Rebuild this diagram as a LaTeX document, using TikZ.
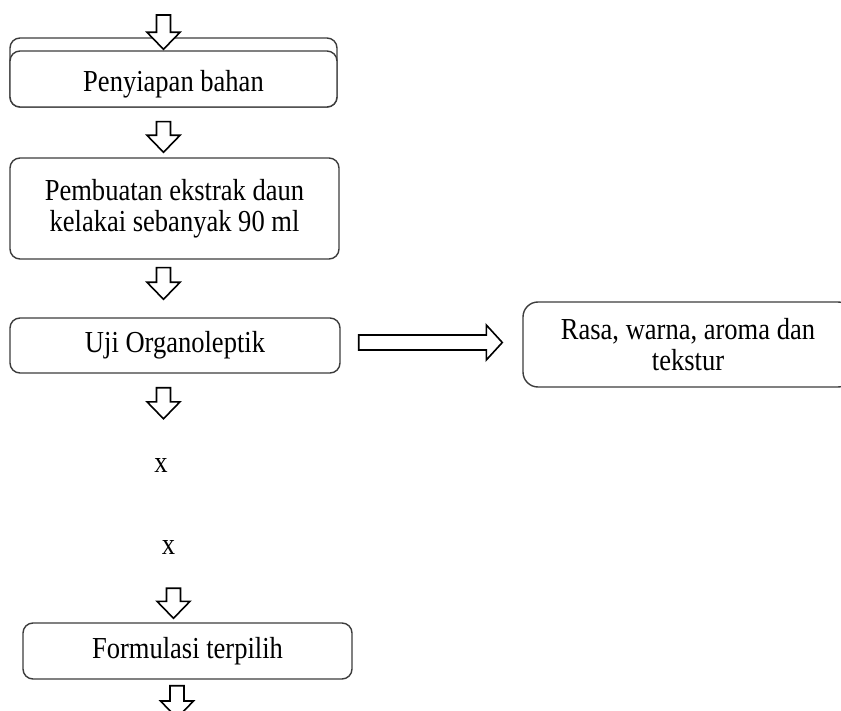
\documentclass[tikz,border=0pt]{standalone}
\usepackage{fontspec}
\setmainfont[FakeStretch=0.87]{Liberation Serif}
\usetikzlibrary{calc}
\definecolor{boxgray}{HTML}{3C3C3C}
\newcommand{\flowFont}{\fontsize{30.5}{31.5}\selectfont}

\begin{document}
\begin{tikzpicture}[x=1pt, y=-1pt]
  \tikzset{
    every node/.style={font=\flowFont, align=center},
    stage/.style={draw=boxgray, line width=1.4pt, rounded corners=10pt, fill=white, inner sep=0pt},
    blockdown/.style={draw=black, line width=1.6pt, fill=white,
      to path={let \p1=(\tikztostart), \p2=(\tikztotarget) in
        (\x1-7pt,\y1) -- (\x1+7pt,\y1) -- (\x1+7pt,\y2+17pt) -- (\x1+16.5pt,\y2+17pt)
        -- (\x1,\y2) -- (\x1-16.5pt,\y2+17pt) -- (\x1-7pt,\y2+17pt) -- cycle}},
    blockright/.style={draw=black, line width=1.6pt, fill=white,
      to path={let \p1=(\tikztostart), \p2=(\tikztotarget) in
        (\x1,\y1+7.5pt) -- (\x2-16pt,\y1+7.5pt) -- (\x2-16pt,\y1+17.5pt) -- (\x2,\y1)
        -- (\x2-16pt,\y1-17.5pt) -- (\x2-16pt,\y1-7.5pt) -- (\x1,\y1-7.5pt) -- cycle}}
  }
  \useasboundingbox (0,0) rectangle (841,711);

  % boxes
  \node[stage, minimum width=327pt, minimum height=69pt] (prepback) at (173.5,72.5) {};
  \node[stage, minimum width=327pt, minimum height=56pt, text height=31pt] (prep) at (173.5,79) {Penyiapan bahan};
  \node[stage, minimum width=329pt, minimum height=101pt] (ekstrak) at (174.5,208.5) {Pembuatan ekstrak daun\\kelakai sebanyak 90 ml};
  \node[stage, minimum width=330pt, minimum height=55pt] (uji) at (175,345.5) {Uji Organoleptik};
  \node[stage, rounded corners=15pt, minimum width=330pt, minimum height=85pt] (sifat) at (688,344.5) {Rasa, warna, aroma dan\\tekstur};
  \node[inner sep=0pt] (xa) at (161,465) {x};
  \node[inner sep=0pt] (xb) at (168.5,547) {x};
  \node[stage, minimum width=329pt, minimum height=56pt] (formula) at (187.5,651) {Formulasi terpilih};

  % arrows
  \coordinate (start) at (163.5,15);
  \coordinate (finish) at (177,718);
  \draw[blockdown] (start) to ([yshift=1pt]prep.north);
  \draw[blockdown] ([xshift=-10pt,yshift=-14pt]prep.south) to ([yshift=5pt]ekstrak.north);
  \draw[blockdown] ([xshift=-11pt,yshift=-8pt]ekstrak.south) to ([yshift=18pt]uji.north);
  \draw[blockdown] ([xshift=-11.5pt,yshift=-14pt]uji.south) to ([yshift=39pt]xa.north);
  \draw[blockdown] ([xshift=5pt,yshift=-34pt]xb.south) to ([yshift=4pt]formula.north);
  \draw[blockdown] ([xshift=-10.5pt,yshift=-6pt]formula.south) to (finish);
  \draw[blockright] ([xshift=18pt,yshift=3pt]uji.east) to ([xshift=-20pt]sifat.west);
\end{tikzpicture}
\end{document}
